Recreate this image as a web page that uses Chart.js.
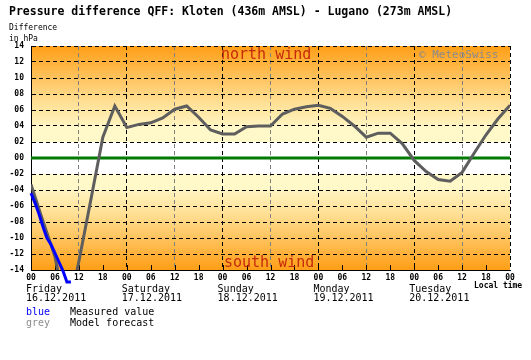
<!DOCTYPE html>
<html>
<head>
<meta charset="utf-8">
<script src="https://cdn.jsdelivr.net/npm/chart.js@4.4.1/dist/chart.umd.min.js"></script>
<style>
html,body{margin:0;padding:0;background:#fff;}
#wrap{width:531px;height:360px;position:relative;}
</style>
</head>
<body>
<div id="wrap"><canvas id="c" width="531" height="360"></canvas></div>
<script>
// ---- data ----
const titleText = 'Pressure difference QFF: Kloten (436m AMSL) - Lugano (273m AMSL)';
const yTitleLines = ['Difference', 'in hPa'];
const dayNames = ['Friday', 'Saturday', 'Sunday', 'Monday', 'Tuesday'];
const dayDates = ['16.12.2011', '17.12.2011', '18.12.2011', '19.12.2011', '20.12.2011'];
const measuredHours = [0, 1, 2, 3, 4, 5, 6, 7, 8, 9, 10];
const measuredValues = [-4.4, -5.6, -7.0, -8.6, -10.0, -10.8, -11.9, -13.0, -14.1, -15.5, -15.5];
const forecastHours = [0, 3, 6, 9, 12, 15, 18, 21, 24, 27, 30, 33, 36, 39, 42, 45, 48, 51, 54, 57, 60,
  63, 66, 69, 72, 75, 78, 81, 84, 87, 90, 93, 96, 99, 102, 105, 108, 111, 114, 117, 120];
const forecastValues = [-3.3, -7.9, -12.3, -20.0, -12.9, -5.2, 2.6, 6.5, 3.8, 4.2, 4.4, 5.0, 6.1, 6.5, 5.1, 3.5, 3.0, 3.0, 3.9, 4.0, 4.0,
  5.5, 6.1, 6.4, 6.6, 6.2, 5.2, 4.0, 2.6, 3.1, 3.1, 1.8, -0.3, -1.7, -2.7, -2.9, -1.8, 0.6, 2.9, 4.9, 6.6];
const legendItems = [['blue', 'Measured value'], ['grey', 'Model forecast']];
const northLabel = 'north wind';
const southLabel = 'south wind';
const creditLabel = '\u00a9 MeteoSwiss';
const localTimeLabel = 'Local time';

const MONO = '"DejaVu Sans Mono", "Liberation Mono", monospace';
const pad2 = n => String(Math.round(Math.abs(n))).padStart(2, '0');

const decor = {
  id: 'decor',
  beforeDraw(chart) {
    const {ctx, chartArea: a, scales: {y}} = chart;
    ctx.save();
    ctx.fillStyle = '#fff';
    ctx.fillRect(0, 0, chart.width, chart.height);
    const light = '#FFF8C8';
    const y2 = y.getPixelForValue(2), y4 = y.getPixelForValue(4), y14 = y.getPixelForValue(14);
    ctx.fillStyle = light;
    ctx.fillRect(a.left, y4, a.right - a.left, y2 - y4);
    let g = ctx.createLinearGradient(0, y4, 0, y14);
    g.addColorStop(0, '#FFF4C0');
    g.addColorStop(0.3, '#FFDF94');
    g.addColorStop(1, '#FF9E16');
    ctx.fillStyle = g;
    ctx.fillRect(a.left, y14, a.right - a.left, y4 - y14);
    const n2 = y.getPixelForValue(-2), n4 = y.getPixelForValue(-4), n14 = y.getPixelForValue(-14);
    ctx.fillStyle = light;
    ctx.fillRect(a.left, n2, a.right - a.left, n4 - n2);
    g = ctx.createLinearGradient(0, n4, 0, n14);
    g.addColorStop(0, '#FFF4C0');
    g.addColorStop(0.3, '#FFDF94');
    g.addColorStop(1, '#FF9E16');
    ctx.fillStyle = g;
    ctx.fillRect(a.left, n4, a.right - a.left, n14 - n4);
    ctx.restore();
  },
  beforeDatasetsDraw(chart) {
    const {ctx, chartArea: a, scales: {x, y}} = chart;
    ctx.save();
    const y0 = y.getPixelForValue(0);
    ctx.strokeStyle = '#007A00';
    ctx.lineWidth = 3;
    ctx.beginPath();
    ctx.moveTo(a.left, y0);
    ctx.lineTo(a.right, y0);
    ctx.stroke();
    ctx.strokeStyle = '#000';
    ctx.lineWidth = 1;
    for (let h = 6; h < 120; h += 6) {
      const px = Math.round(x.getPixelForValue(h)) + 0.5;
      ctx.beginPath();
      ctx.moveTo(px, a.bottom);
      ctx.lineTo(px, a.bottom - 5);
      ctx.stroke();
    }
    ctx.fillStyle = '#C42A0C';
    ctx.font = '15px ' + MONO;
    ctx.textBaseline = 'middle';
    ctx.textAlign = 'left';
    ctx.fillText(northLabel, 221, 55);
    ctx.fillText(southLabel, 224, 263);
    ctx.fillStyle = '#8A8A8A';
    ctx.font = '11px ' + MONO;
    ctx.fillText(creditLabel, 419, 55);
    ctx.restore();
  },
  afterDraw(chart) {
    const {ctx, scales: {x}} = chart;
    ctx.save();
    ctx.fillStyle = '#000';
    ctx.textBaseline = 'middle';
    ctx.textAlign = 'left';
    ctx.font = 'bold 11.5px ' + MONO;
    ctx.fillText(titleText, 9, 12);
    ctx.font = '8px ' + MONO;
    ctx.fillText(yTitleLines[0], 9, 28);
    ctx.fillText(yTitleLines[1], 9, 38.5);
    ctx.font = '10px ' + MONO;
    dayNames.forEach((d, i) => {
      const px = x.getPixelForValue(i * 24) - 5;
      ctx.fillText(d, px, 289);
      ctx.fillText(dayDates[i], px, 298.5);
    });
    ctx.font = 'bold 8px ' + MONO;
    ctx.fillText(localTimeLabel, 474, 286);
    ctx.font = '10px ' + MONO;
    ctx.fillStyle = '#0000FF';
    ctx.fillText(legendItems[0][0], 26, 312.5);
    ctx.fillStyle = '#8C8C8C';
    ctx.fillText(legendItems[1][0], 26, 323);
    ctx.fillStyle = '#000';
    ctx.fillText(legendItems[0][1], 70, 312.5);
    ctx.fillText(legendItems[1][1], 70, 323);
    ctx.restore();
  }
};

new Chart(document.getElementById('c'), {
  type: 'line',
  data: {
    datasets: [
      {
        label: 'Measured value',
        data: measuredHours.map((h, i) => ({x: h, y: measuredValues[i]})),
        borderColor: '#0000FF',
        borderWidth: 3,
        pointRadius: 0,
        tension: 0,
        clip: false,
        order: 0
      },
      {
        label: 'Model forecast',
        data: forecastHours.map((h, i) => ({x: h, y: forecastValues[i]})),
        borderColor: '#5E5E5E',
        borderWidth: 3,
        pointRadius: 0,
        tension: 0,
        clip: 0,
        order: 1
      }
    ]
  },
  options: {
    responsive: false,
    animation: false,
    events: [],
    layout: {padding: {left: 0, top: 46, right: 21, bottom: 0}},
    plugins: {legend: {display: false}, tooltip: {enabled: false}, title: {display: false}},
    scales: {
      x: {
        type: 'linear', min: 0, max: 120,
        afterFit: s => { s.height = 90; },
        ticks: {
          stepSize: 6, autoSkip: false, maxRotation: 0, padding: 3,
          color: '#000', font: {family: MONO, size: 8, weight: 'bold'},
          callback: v => pad2(v % 24)
        },
        grid: {
          drawTicks: false,
          color: c => (c.tick && c.tick.value % 24 === 0) ? '#000' : ((c.tick && c.tick.value % 12 === 0) ? '#808080' : 'rgba(0,0,0,0)'),
          lineWidth: 1
        },
        border: {display: true, color: '#000', width: 1, dash: [4, 3]}
      },
      y: {
        min: -14, max: 14,
        afterFit: s => { s.width = 31; },
        ticks: {
          stepSize: 2, padding: 7, color: '#000',
          font: {family: MONO, size: 8, weight: 'bold'},
          callback: v => (v < 0 ? '-' : '') + pad2(v)
        },
        grid: {
          drawTicks: false,
          color: c => (c.tick && (c.tick.value === -14)) ? 'rgba(0,0,0,0)' : '#000',
          lineWidth: 1
        },
        border: {display: true, color: '#000', width: 1, dash: [4, 3]}
      }
    }
  },
  plugins: [decor]
});
</script>
</body>
</html>
